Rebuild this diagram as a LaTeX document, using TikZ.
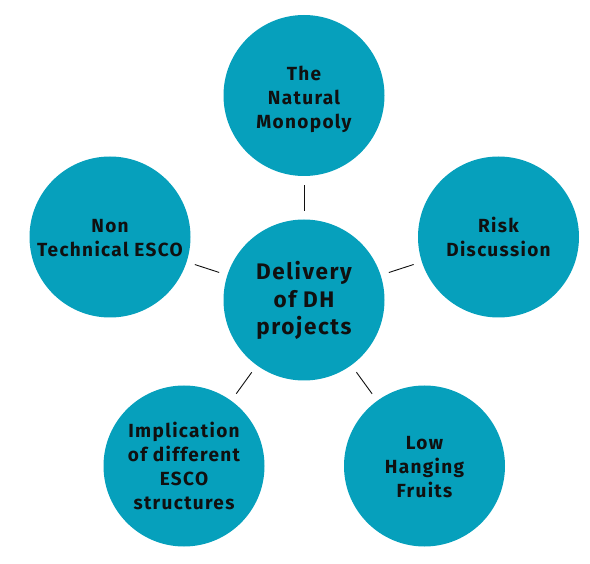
\documentclass[tikz,border=0pt]{standalone}
\usepackage{fontspec}
\setmainfont{Fira Sans}[LetterSpace=7]
\definecolor{teal}{RGB}{6,160,188}
\definecolor{ink}{RGB}{16,16,16}
\newcommand{\btext}[2][-3pt]{\raisebox{#1}[\height][\depth]{\begin{tabular}{@{}c@{}}#2\end{tabular}}}
\begin{document}
\begin{tikzpicture}[x=1pt,y=-1pt,
  bubble/.style={circle,fill=teal,draw=none,minimum size=161pt,inner sep=0pt,
    text=ink,font=\fontsize{19}{24}\selectfont\bfseries},
  hub/.style={bubble,font=\fontsize{22.5}{27.5}\selectfont\bfseries},
  link/.style={draw=ink,line width=0.9pt,shorten >=8.5pt,shorten <=8.5pt}]
\useasboundingbox (0,0) rectangle (590,564);
\node[hub] (c) at (304,300) {\btext[-2pt]{Delivery\\of DH\\projects}};
\node[bubble] (t) at (304,95.5) {\btext[-4pt]{The\\Natural\\Monopoly}};
\node[bubble] (l) at (110,237) {\btext{Non\\Technical ESCO}};
\node[bubble] (r) at (498.5,237) {\btext{Risk\\Discussion}};
\node[bubble] (bl) at (184,466) {\btext{Implication\\of different\\ESCO\\structures}};
\node[bubble] (br) at (424.5,466) {\btext{Low\\Hanging\\Fruits}};
\draw[link] (c) -- (t);
\draw[link] (c) -- (l);
\draw[link] (c) -- (r);
\draw[link] (c) -- (bl);
\draw[link] (c) -- (br);
\end{tikzpicture}
\end{document}
